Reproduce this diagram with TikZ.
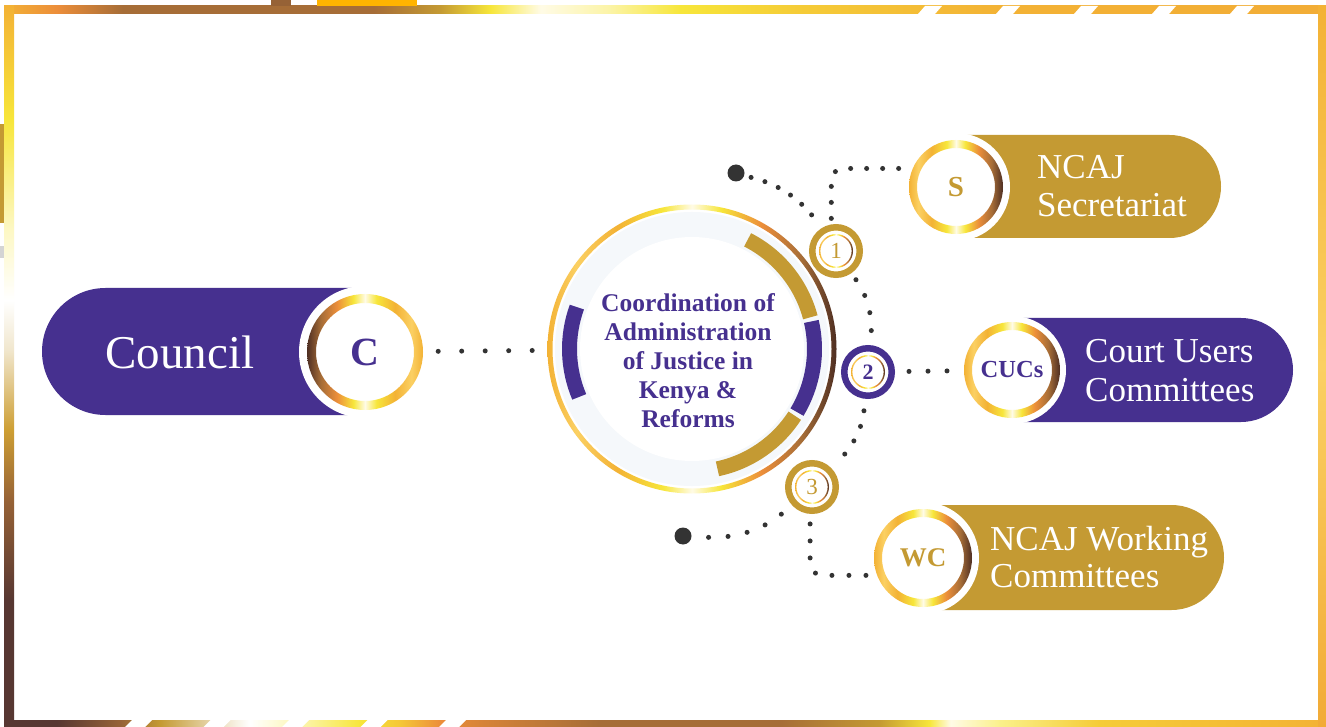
\documentclass[tikz,border=0pt]{standalone}
\usepackage{fontspec}
\setmainfont{Liberation Serif}

\definecolor{ncajpurple}{HTML}{46308F}
\definecolor{ncajgold}{HTML}{C49A33}
\definecolor{dotgrey}{HTML}{333333}
\definecolor{hubfill}{HTML}{F5F8FB}
\definecolor{metdark}{HTML}{4E2E22}
\definecolor{frdark}{HTML}{573732}
\definecolor{mbrown}{HTML}{A66D37}
\definecolor{metorange}{HTML}{EC8E3A}
\definecolor{metyellow}{HTML}{F7E63A}
\definecolor{metwhite}{HTML}{FFFBE6}
\definecolor{metgold}{HTML}{F3B235}
\definecolor{metgoldl}{HTML}{FBD063}
\definecolor{edgegold}{HTML}{FFB400}

% metallic ring, dark on the left, gold on the right
\pgfdeclarehorizontalshading{metalring}{100bp}{%
  color(0bp)=(metdark); color(25bp)=(metdark); color(31bp)=(mbrown);
  color(38bp)=(metorange); color(45bp)=(metyellow); color(50bp)=(metwhite);
  color(55bp)=(metyellow); color(63bp)=(metgold); color(70bp)=(metgoldl);
  color(75bp)=(metgold); color(100bp)=(metgold)}

% frame bars
\pgfdeclarehorizontalshading{frametop}{100bp}{%
  color(0bp)=(metgold); color(25bp)=(metgold); color(27bp)=(metorange);
  color(29.5bp)=(mbrown); color(39bp)=(mbrown); color(41.5bp)=(ncajgold);
  color(43.4bp)=(metyellow); color(45.3bp)=(metwhite);
  color(47.9bp)=(metyellow!45!white); color(50.6bp)=(metyellow);
  color(55bp)=(metgold!50!metyellow); color(62.7bp)=(metgold);
  color(75bp)=(metgold!85!metorange); color(100bp)=(metgold!85!metorange)}
\pgfdeclarehorizontalshading{framebottom}{100bp}{%
  color(0bp)=(frdark); color(27bp)=(frdark); color(29.4bp)=(mbrown!80!frdark);
  color(30.9bp)=(ncajgold); color(33.2bp)=(ncajgold!30!white);
  color(34.3bp)=(white); color(36.2bp)=(metyellow!40!white);
  color(38.5bp)=(metyellow); color(40bp)=(metgold!60!metyellow);
  color(41.5bp)=(metorange); color(43bp)=(metorange!70!mbrown);
  color(47.5bp)=(mbrown); color(54.3bp)=(mbrown); color(58.1bp)=(ncajgold);
  color(60bp)=(metyellow); color(60.8bp)=(metwhite);
  color(62.7bp)=(metyellow!60!white); color(66.4bp)=(metgold!50!metyellow);
  color(75bp)=(metgold); color(100bp)=(metgold)}
\pgfdeclareverticalshading{frameleft}{100bp}{%
  color(0bp)=(frdark); color(33.8bp)=(frdark); color(40.7bp)=(mbrown!80!frdark);
  color(45.6bp)=(ncajgold!80!metgold); color(51.1bp)=(ncajgold!25!white);
  color(54.6bp)=(white); color(59.5bp)=(metyellow!30!white);
  color(67.1bp)=(metyellow); color(75bp)=(metgold); color(100bp)=(metgold)}
\pgfdeclareverticalshading{frameright}{100bp}{%
  color(0bp)=(metgold!80!metorange); color(25bp)=(metgold!80!metorange);
  color(50bp)=(metgoldl); color(75bp)=(metgold); color(100bp)=(metgold)}

\begin{document}
\begin{tikzpicture}[x=1pt, y=1pt,
	dotline/.style={draw=dotgrey, line width=5pt, line cap=round, dash pattern=on 0pt off #1},
	dotline/.default=16pt,
	letterdisc/.style={circle, fill=white, inner sep=0pt, minimum size=#1},
	numring/.style={circle, draw=#1, line width=6.5pt, fill=white, minimum size=47.5pt,
		inner sep=0pt, text=#1, font=\fontsize{23}{23}\selectfont},
	bigdot/.style={circle, fill=dotgrey, minimum size=17pt, inner sep=0pt},
	pilltext/.style={text=white, align=left, inner sep=0pt, anchor=west,
		font=\fontsize{35}{#1}\selectfont},
	metal/.style={shading=metalring, shading angle=#1, even odd rule},
	metal/.default=0]
	\useasboundingbox (0,0) rectangle (1326,-727);
	\fill[white] (0,0) rectangle (1326,-727);

	% frame
	\shade[shading=frametop] (4,-6) rectangle (1326,-14);
	\shade[shading=frameleft] (4,-6) rectangle (14,-727);
	\shade[shading=framebottom] (4,-720) rectangle (1326,-727);
	\shade[shading=frameright] (1318,-6) rectangle (1326,-727);
	\foreach \g in {918,996,1074,1152,1230}
		\fill[white] (\g,-14) -- ++(17,0) -- ++(7,8) -- ++(-17,0) -- cycle;
	\foreach \g in {125,203.5,282,360.5,439}
		\fill[white] (\g,-727) -- ++(20,0) -- ++(7,7) -- ++(-20,0) -- cycle;
	\fill[mbrown!80!frdark] (271,0) rectangle (291,-6);
	\fill[edgegold] (317,0) rectangle (417,-6);
	\fill[ncajgold] (0,-124) rectangle (4,-223);
	\fill[black!17] (0,-246) rectangle (4,-258);

	% pills
	\fill[ncajpurple] (365,-288) -- (105.5,-288) arc[start angle=90, end angle=270, radius=63.5] -- (365,-415) -- cycle;
	\fill[ncajgold] (956,-135) -- (1169.5,-135) arc[start angle=90, end angle=-90, radius=51.5] -- (956,-238) -- cycle;
	\fill[ncajpurple] (1012,-318) -- (1241,-318) arc[start angle=90, end angle=-90, radius=52] -- (1012,-422) -- cycle;
	\fill[ncajgold] (923,-505) -- (1171.5,-505) arc[start angle=90, end angle=-90, radius=52.5] -- (923,-610) -- cycle;

	\node[text=white, font=\fontsize{47}{47}\selectfont] (council) at (180,-352) {Council};
	\node[pilltext=38pt] (stext) at (1037,-186.5) {NCAJ\\Secretariat};
	\node[pilltext=39pt] (cuctext) at (1085,-371) {Court Users\\Committees};
	\node[pilltext=37pt] (wctext) at (990,-557.5) {NCAJ Working\\Committees};

	% letter circles
	\node[letterdisc=132pt, text=ncajpurple, font=\fontsize{40}{40}\selectfont\bfseries] (c) at (365,-352) {C};
	\node[letterdisc=108pt, text=ncajgold, font=\fontsize{29}{29}\selectfont\bfseries] (s) at (956,-187) {S};
	\node[letterdisc=108pt, text=ncajpurple, font=\fontsize{24.5}{24.5}\selectfont\bfseries] (cuc) at (1012,-370) {CUCs};
	\node[letterdisc=112pt, text=ncajgold, font=\fontsize{27}{27}\selectfont\bfseries] (wc) at (923,-558) {WC};
	\shade[metal] (c.center) circle (58) circle (49);
	\shade[metal=180] (s.center) circle (47) circle (39);
	\shade[metal=180] (cuc.center) circle (48) circle (40);
	\shade[metal=180] (wc.center) circle (49) circle (41);

	% centre
	\node[circle, fill=white, minimum size=288pt, inner sep=0pt] (hub) at (692,-349) {};
	\fill[hubfill] (hub.center) circle (137);
	\fill[white] (hub.center) circle (112);
	\shade[metal=180] (hub.center) circle (144.5) circle (139.5);
	\foreach \a/\b/\col in {15/63/ncajgold, -31/13/ncajpurple, -78/-33/ncajgold, 160/203/ncajpurple}
		\draw[\col, line width=15pt] (hub.center) ++(\a:122.5) arc[start angle=\a, end angle=\b, radius=122.5];
	\node[align=center, text=ncajpurple, font=\fontsize{25.5}{29}\selectfont\bfseries] (hubtext) at (688,-361)
		{Coordination of\\Administration\\of Justice in\\Kenya \&\\Reforms};

	% numbered circles and end dots
	\node[numring=ncajgold] (n1) at (836,-251) {1};
	\node[numring=ncajpurple, font=\fontsize{22}{22}\selectfont\bfseries] (n2) at (868,-372) {2};
	\node[numring=ncajgold] (n3) at (812,-487) {3};
	\foreach \n in {n1,n2,n3}
		\shade[metal=180] (\n.center) circle (17) circle (15.6);
	\node[bigdot] (topdot) at (736,-173) {};
	\node[bigdot] (botdot) at (683,-536) {};

	% dotted connectors
	\draw[dotline=23.5pt, shorten <=7pt, shorten >=10pt] (c) -- (hub);
	\draw[dotline=14.5pt, shorten <=7pt, shorten >=6pt] (topdot) to[bend left=20] (n1);
	\draw[dotline=18pt, shorten <=8pt, shorten >=4pt] (n1) to[bend left=20] (n2);
	\draw[dotline=16pt, shorten <=12pt, shorten >=4pt] (n2) to[bend left=20] (n3);
	\draw[dotline=19.5pt, shorten <=14pt, shorten >=8pt] (n3) to[bend left=22] (botdot);
	\draw[dotline=16pt, rounded corners=12pt, shorten <=6pt] (n1.100) |- (s.160);
	\draw[dotline=19pt, shorten <=14pt, shorten >=8pt] (n2) -- (cuc);
	\draw[dotline=17pt, rounded corners=12pt, shorten <=10pt] (n3.266) |- (wc.198);
\end{tikzpicture}
\end{document}
